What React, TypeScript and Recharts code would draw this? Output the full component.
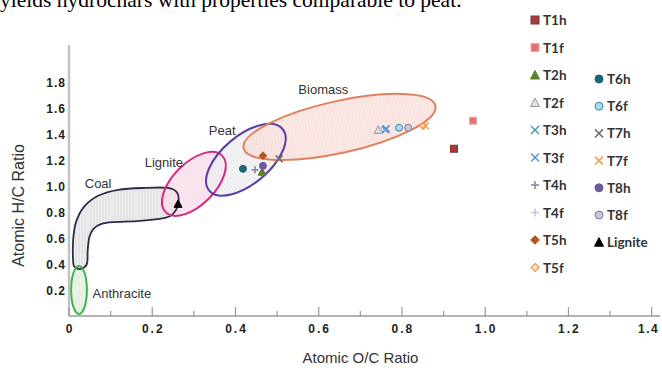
import { ScatterChart, Scatter, XAxis, YAxis, ReferenceArea, ReferenceDot, Label } from 'recharts'

// sample points (O/C, H/C)
const seriesNames = ['T1h', 'T1f', 'T2h', 'T2f', 'T3h', 'T3f', 'T4h', 'T4f', 'T5h', 'T5f', 'T6h', 'T6f', 'T7h', 'T7f', 'T8h', 'T8f', 'Lignite']
const ocRatio = [0.925, 0.971, 0.464, 0.743, 0.76, 0.762, 0.447, 0.75, 0.466, 0.851, 0.418, 0.793, 0.505, 0.856, 0.466, 0.815, 0.262]
const hcRatio = [1.29, 1.506, 1.112, 1.436, 1.436, 1.444, 1.127, 1.436, 1.236, 1.467, 1.135, 1.452, 1.212, 1.467, 1.158, 1.452, 0.865]

const xTicks = [0, 0.1, 0.2, 0.3, 0.4, 0.5, 0.6, 0.7, 0.8, 0.9, 1.0, 1.1, 1.2, 1.3, 1.4]
const yTicks = [0.2, 0.4, 0.6, 0.8, 1.0, 1.2, 1.4, 1.6, 1.8]

// fuel regions drawn as ellipses: centre, half-axes (x units / y units), tilt in degrees
const regionNames = ['Anthracite', 'Lignite', 'Peat', 'Biomass']
const regionCx = [0.024, 0.3, 0.425, 0.65]
const regionCy = [0.201, 1.019, 1.205, 1.458]
const regionRx = [0.019, 0.096, 0.115, 0.236]
const regionRy = [0.185, 0.162, 0.185, 0.2]
const regionTilt = [0, 45, 40, 12.5]
const labelX = [0.127, 0.228, 0.368, 0.611]
const labelY = [0.178, 1.189, 1.436, 1.75]

// coal band outline
const coalX = [0.01, 0.01, 0.017, 0.036, 0.07, 0.118, 0.183, 0.238, 0.26, 0.262, 0.25, 0.231, 0.171, 0.105, 0.078, 0.059, 0.049, 0.045, 0.043, 0.029, 0.014]
const coalY = [0.417, 0.587, 0.726, 0.842, 0.927, 0.973, 0.988, 0.988, 0.95, 0.857, 0.788, 0.757, 0.734, 0.724, 0.71, 0.672, 0.61, 0.51, 0.402, 0.363, 0.378]
const coalLabel = { x: 0.07, y: 1.027 }

const markerKind = ['square', 'square', 'triangle', 'triangle', 'x', 'x', 'plus', 'plus', 'diamond', 'diamond', 'circle', 'circle', 'x', 'x', 'circle', 'circle', 'triangle']
const markerFill = ['#a33c3c', '#e47070', '#5d7f2c', '#e2e8cc', 'none', 'none', 'none', 'none', '#b5571a', '#fde2c6', '#1d6474', '#a9dcec', 'none', 'none', '#6b5a95', '#cdc6df', '#000000']
const markerStroke = ['#8a3030', '#f2a8a8', '#5d7f2c', '#9c8fb0', '#3f9ab8', '#5b8ff0', '#8a8aa0', '#c6c6e0', '#b5571a', '#eb9a5a', '#1d6474', '#3f8aa3', '#707070', '#f2a04a', '#6b5a95', '#7c7c8c', '#000000']

const regionStyle: Record<string, { stroke: string; base: string; streak: string }> = {
  Anthracite: { stroke: '#3db54a', base: '#e6f4e4', streak: '#cfe7cc' },
  Lignite: { stroke: '#d92a86', base: '#fbe4ef', streak: '#f2c6db' },
  Peat: { stroke: '#5b3ea6', base: '#f3f3f5', streak: '#dcdce2' },
  Biomass: { stroke: '#e0805e', base: '#fbe7e4', streak: '#f0c8c2' },
  Coal: { stroke: '#2b2d4a', base: '#ededed', streak: '#cfcfcf' },
}

const FONT = '"Liberation Sans", Arial, sans-serif'

function Marker({ cx, cy, i, s = 4 }: { cx: number; cy: number; i: number; s?: number }) {
  const fill = markerFill[i]
  const stroke = markerStroke[i]
  switch (markerKind[i]) {
    case 'square':
      return <rect x={cx - s} y={cy - s} width={2 * s} height={2 * s} fill={fill} stroke={stroke} strokeWidth={1} />
    case 'triangle':
      return <polygon points={`${cx},${cy - s - 0.5} ${cx + s + 0.5},${cy + s} ${cx - s - 0.5},${cy + s}`} fill={fill} stroke={stroke} strokeWidth={1} />
    case 'diamond':
      return <polygon points={`${cx},${cy - s} ${cx + s},${cy} ${cx},${cy + s} ${cx - s},${cy}`} fill={fill} stroke={stroke} strokeWidth={1.2} />
    case 'circle':
      return <circle cx={cx} cy={cy} r={s} fill={fill} stroke={stroke} strokeWidth={1} />
    case 'x':
      return (
        <g stroke={stroke} strokeWidth={1.5}>
          <line x1={cx - s} y1={cy - s} x2={cx + s} y2={cy + s} />
          <line x1={cx - s} y1={cy + s} x2={cx + s} y2={cy - s} />
        </g>
      )
    default:
      return (
        <g stroke={stroke} strokeWidth={1.6}>
          <line x1={cx - s} y1={cy} x2={cx + s} y2={cy} />
          <line x1={cx} y1={cy - s} x2={cx} y2={cy + s} />
        </g>
      )
  }
}

function hatch(id: string, name: string) {
  const st = regionStyle[name]
  return (
    <defs>
      <pattern id={id} patternUnits="userSpaceOnUse" width={3} height={7}>
        <rect width={3} height={7} fill={st.base} />
        <line x1={1} y1={0} x2={1} y2={7} stroke={st.streak} strokeWidth={0.8} />
      </pattern>
    </defs>
  )
}

const ellipseShape = (i: number, pass: 'fill' | 'line') => (p: any) => {
  const name = regionNames[i]
  const cx = p.x + p.width / 2
  const cy = p.y + p.height / 2
  const id = `hatch-${name}`
  return (
    <g>
      {pass === 'fill' && hatch(id, name)}
      <ellipse
        cx={cx}
        cy={cy}
        rx={Math.abs(p.width) / 2}
        ry={Math.abs(p.height) / 2}
        transform={`rotate(${-regionTilt[i]} ${cx} ${cy})`}
        fill={pass === 'fill' ? `url(#${id})` : 'none'}
        fillOpacity={0.8}
        stroke={pass === 'line' ? regionStyle[name].stroke : 'none'}
        strokeWidth={2}
      />
    </g>
  )
}

function smoothClosed(pts: number[][]) {
  const n = pts.length
  let d = `M${pts[0][0]},${pts[0][1]}`
  for (let i = 0; i < n; i++) {
    const p0 = pts[(i - 1 + n) % n]
    const p1 = pts[i]
    const p2 = pts[(i + 1) % n]
    const p3 = pts[(i + 2) % n]
    const c1 = [p1[0] + (p2[0] - p0[0]) / 6, p1[1] + (p2[1] - p0[1]) / 6]
    const c2 = [p2[0] - (p3[0] - p1[0]) / 6, p2[1] - (p3[1] - p1[1]) / 6]
    d += ` C${c1[0]},${c1[1]} ${c2[0]},${c2[1]} ${p2[0]},${p2[1]}`
  }
  return d + 'Z'
}

const cx1 = Math.min(...coalX)
const cx2 = Math.max(...coalX)
const cy1 = Math.min(...coalY)
const cy2 = Math.max(...coalY)

const coalShape = (pass: 'fill' | 'line') => (p: any) => {
  const pts = coalX.map((x, k) => [
    p.x + ((x - cx1) / (cx2 - cx1)) * p.width,
    p.y + ((cy2 - coalY[k]) / (cy2 - cy1)) * p.height,
  ])
  return (
    <g>
      {pass === 'fill' && hatch('hatch-Coal', 'Coal')}
      <path
        d={smoothClosed(pts)}
        fill={pass === 'fill' ? 'url(#hatch-Coal)' : 'none'}
        fillOpacity={0.9}
        stroke={pass === 'line' ? regionStyle.Coal.stroke : 'none'}
        strokeWidth={1.8}
      />
    </g>
  )
}

const textShape = (txt: string) => (p: any) => (
  <text x={p.cx} y={p.cy + 5} textAnchor="middle" fontFamily={FONT} fontSize={13} fill="#333">
    {txt}
  </text>
)

function XTick(p: any) {
  const v = p.payload.value
  const major = Math.round(v * 10) % 2 === 0
  const last = v >= 1.4
  return (
    <g>
      <line x1={p.x} x2={p.x} y1={p.y} y2={p.y - (major ? 9 : 5)} stroke="#999" strokeWidth={1.2} />
      {major && (
        <text
          x={last ? p.x - 3 : p.x + 1}
          y={p.y + 17}
          textAnchor="middle"
          fontFamily={FONT}
          fontWeight="bold"
          fontSize={12}
          letterSpacing={last ? 1.5 : 2}
          fill="#222"
        >
          {v === 0 ? '0' : v.toFixed(1)}
        </text>
      )}
    </g>
  )
}

function YTick(p: any) {
  return (
    <text x={p.x - 3} y={p.y + 4.5} textAnchor="end" fontFamily={FONT} fontWeight="bold" fontSize={12} letterSpacing={1} fill="#222">
      {p.payload.value.toFixed(1)}
    </text>
  )
}

export default function App() {
  const legendPos = seriesNames.map((_, i) =>
    i < 10 ? { mx: 535, tx: 543, y: 20 + i * 27.5 } : { mx: 599, tx: 607, y: 79 + (i - 10) * 27.2 }
  )
  return (
    <div style={{ position: 'absolute', left: 0, top: 0, width: 662, height: 370, overflow: 'hidden', background: '#fff' }}>
      <div
        style={{
          position: 'absolute',
          left: 0,
          top: -10,
          fontFamily: '"Liberation Serif", "Times New Roman", serif',
          fontSize: 21.5,
          lineHeight: '21.5px',
          whiteSpace: 'nowrap',
          color: '#000',
        }}
      >
        yields hydrochars with properties comparable to peat.
      </div>
      <ScatterChart width={662} height={370} margin={{ top: 45, right: 2, bottom: 0, left: 0 }}>
        <XAxis
          type="number"
          dataKey="x"
          domain={[0, 1.42]}
          ticks={xTicks}
          interval={0}
          height={54}
          tickSize={0}
          tickMargin={0}
          tickLine={false}
          tick={<XTick />}
          axisLine={{ stroke: '#999', strokeWidth: 1.5 }}
          label={
            <Label
              content={(props: any) => {
                const vb = props.viewBox
                return (
                  <text x={vb.x + vb.width / 2 - 4} y={vb.y + 47} textAnchor="middle" fontFamily={FONT} fontSize={15} fill="#333">
                    Atomic O/C Ratio
                  </text>
                )
              }}
            />
          }
        />
        <YAxis
          type="number"
          dataKey="y"
          domain={[0, 2.09]}
          ticks={yTicks}
          interval={0}
          width={69}
          tickSize={0}
          tickMargin={0}
          tickLine={false}
          tick={<YTick />}
          axisLine={{ stroke: '#c2c2c2', strokeWidth: 2.5 }}
          label={
            <Label
              content={(props: any) => {
                const vb = props.viewBox
                const cy = vb.y + vb.height / 2 + 25
                return (
                  <text x={24} y={cy} textAnchor="middle" transform={`rotate(-90 24 ${cy})`} fontFamily={FONT} fontSize={16} fill="#333">
                    Atomic H/C Ratio
                  </text>
                )
              }}
            />
          }
        />

        <ReferenceArea x1={cx1} x2={cx2} y1={cy1} y2={cy2} ifOverflow="visible" shape={coalShape('fill')} />
        {regionNames.map((n, i) => (
          <ReferenceArea
            key={`f-${n}`}
            x1={regionCx[i] - regionRx[i]}
            x2={regionCx[i] + regionRx[i]}
            y1={regionCy[i] - regionRy[i]}
            y2={regionCy[i] + regionRy[i]}
            ifOverflow="visible"
            shape={ellipseShape(i, 'fill')}
          />
        ))}
        <ReferenceArea x1={cx1} x2={cx2} y1={cy1} y2={cy2} ifOverflow="visible" shape={coalShape('line')} />
        {regionNames.map((n, i) => (
          <ReferenceArea
            key={`l-${n}`}
            x1={regionCx[i] - regionRx[i]}
            x2={regionCx[i] + regionRx[i]}
            y1={regionCy[i] - regionRy[i]}
            y2={regionCy[i] + regionRy[i]}
            ifOverflow="visible"
            shape={ellipseShape(i, 'line')}
          />
        ))}
        <ReferenceDot x={coalLabel.x} y={coalLabel.y} ifOverflow="visible" shape={textShape('Coal')} />
        {regionNames.map((n, i) => (
          <ReferenceDot key={`t-${n}`} x={labelX[i]} y={labelY[i]} ifOverflow="visible" shape={textShape(n)} />
        ))}

        {seriesNames.map((name, i) => (
          <Scatter
            key={name}
            name={name}
            data={[{ x: ocRatio[i], y: hcRatio[i] }]}
            isAnimationActive={false}
            shape={(p: any) => <Marker cx={p.cx} cy={p.cy} i={i} s={3.5} />}
          />
        ))}
      </ScatterChart>
      <svg width={662} height={370} style={{ position: 'absolute', left: 0, top: 0, pointerEvents: 'none' }}>
        {seriesNames.map((name, i) => (
          <g key={name}>
            <Marker cx={legendPos[i].mx} cy={legendPos[i].y} i={i} s={4} />
            <text x={legendPos[i].tx} y={legendPos[i].y + 5} fontFamily="Lato, 'Open Sans', sans-serif" fontWeight="bold" fontSize={13.5} fill="#333">
              {name}
            </text>
          </g>
        ))}
      </svg>
    </div>
  )
}
